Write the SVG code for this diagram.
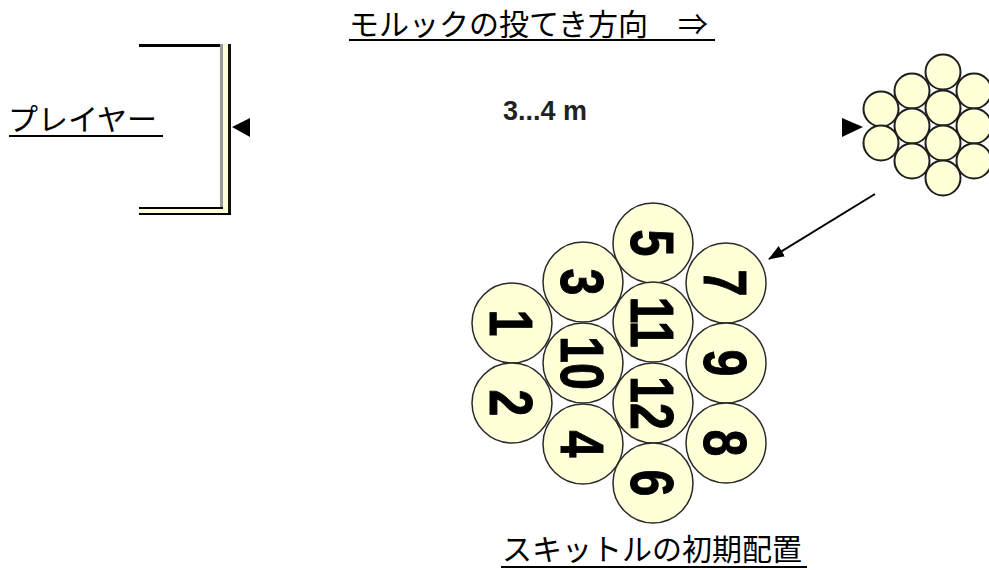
<svg xmlns="http://www.w3.org/2000/svg" width="989" height="570" viewBox="0 0 989 570">
<style>
.jp{font-family:"Noto Sans CJK JP","Noto Sans",sans-serif;font-size:30px;fill:#000}
.ul{stroke:#000;stroke-width:2}
.pin{fill:#FFFFD8;stroke:#2a2a2a;stroke-width:1.5}
.spin{fill:#FFFFD8;stroke:#1e1e1e;stroke-width:2}
.num{font-family:"Liberation Sans",Arial,sans-serif;font-weight:bold;font-size:62px;fill:#000;stroke:#000;stroke-width:1;text-anchor:middle}
.dist{font-family:"Liberation Sans",Arial,sans-serif;font-weight:bold;font-size:27px;fill:#222}
</style>
<defs>
<marker id="ah" markerWidth="16" markerHeight="12" refX="15" refY="6" orient="auto" markerUnits="userSpaceOnUse">
<path d="M0,0 L16,6 L0,12 Z" fill="#000"/>
</marker>
</defs>
<rect width="989" height="570" fill="#fff"/>

<g id="title">
<text class="jp" x="349" y="35">モルックの投てき方向　⇒</text>
<line class="ul" x1="349" y1="40" x2="715" y2="40"/>
</g>

<g id="player">
<text class="jp" x="8" y="130">プレイヤー</text>
<line class="ul" x1="9" y1="136" x2="163" y2="136"/>
<rect x="223" y="44" width="5" height="169" fill="#FFFFD8"/>
<rect x="139" y="209" width="89" height="4" fill="#FFFFD8"/>
<rect x="139" y="44" width="84" height="3" fill="#000"/>
<rect x="220" y="44" width="3" height="165" fill="#9a9a9a"/>
<rect x="228" y="44" width="3" height="171" fill="#111"/>
<rect x="139" y="207" width="84" height="2" fill="#000"/>
<rect x="139" y="213" width="92" height="2" fill="#000"/>
</g>

<g id="distance">
<text class="dist" x="503" y="120">3...4 m</text>
</g>

<g id="connectors">
<polygon points="232,127 250,118 250,137" fill="#000"/>
<polygon points="863,127 842,118 842,137" fill="#000"/>
<line x1="875" y1="194" x2="769" y2="259" stroke="#000" stroke-width="2" marker-end="url(#ah)"/>
</g>

<g id="small-cluster">
<circle class="spin" cx="943" cy="72" r="17.5"/>
<circle class="spin" cx="912" cy="91" r="17.5"/>
<circle class="spin" cx="974" cy="91" r="17.5"/>
<circle class="spin" cx="881" cy="109" r="17.5"/>
<circle class="spin" cx="943" cy="108" r="17.5"/>
<circle class="spin" cx="912" cy="126" r="17.5"/>
<circle class="spin" cx="974" cy="126" r="17.5"/>
<circle class="spin" cx="881" cy="143" r="17.5"/>
<circle class="spin" cx="943" cy="143" r="17.5"/>
<circle class="spin" cx="912" cy="161" r="17.5"/>
<circle class="spin" cx="974" cy="161" r="17.5"/>
<circle class="spin" cx="943" cy="178" r="17.5"/>
</g>

<g id="big-cluster">
<g id="pin5"><circle class="pin" cx="653" cy="243" r="40"/><text class="num" transform="translate(653,243) rotate(90) scale(0.78,1)" y="22">5</text></g>
<g id="pin7"><circle class="pin" cx="726" cy="283" r="40"/><text class="num" transform="translate(726,283) rotate(90) scale(0.78,1)" y="22">7</text></g>
<g id="pin3"><circle class="pin" cx="583" cy="282" r="40"/><text class="num" transform="translate(583,282) rotate(90) scale(0.78,1)" y="22">3</text></g>
<g id="pin11"><circle class="pin" cx="653" cy="322" r="40"/><text class="num" transform="translate(653,322) rotate(90) scale(0.78,1)" y="22">11</text></g>
<g id="pin1"><circle class="pin" cx="512" cy="323" r="40"/><text class="num" transform="translate(512,323) rotate(90) scale(0.78,1)" y="22">1</text></g>
<g id="pin10"><circle class="pin" cx="583" cy="363" r="40"/><text class="num" transform="translate(583,363) rotate(90) scale(0.78,1)" y="22">10</text></g>
<g id="pin9"><circle class="pin" cx="726" cy="363" r="40"/><text class="num" transform="translate(726,363) rotate(90) scale(0.78,1)" y="22">9</text></g>
<g id="pin2"><circle class="pin" cx="512" cy="403" r="40"/><text class="num" transform="translate(512,403) rotate(90) scale(0.78,1)" y="22">2</text></g>
<g id="pin12"><circle class="pin" cx="653" cy="403" r="40"/><text class="num" transform="translate(653,403) rotate(90) scale(0.78,1)" y="22">12</text></g>
<g id="pin4"><circle class="pin" cx="583" cy="444" r="40"/><text class="num" transform="translate(583,444) rotate(90) scale(0.78,1)" y="22">4</text></g>
<g id="pin8"><circle class="pin" cx="726" cy="443" r="40"/><text class="num" transform="translate(726,443) rotate(90) scale(0.78,1)" y="22">8</text></g>
<g id="pin6"><circle class="pin" cx="653" cy="483" r="40"/><text class="num" transform="translate(653,483) rotate(90) scale(0.78,1)" y="22">6</text></g>
</g>

<g id="bottom-label">
<text class="jp" x="502" y="560">スキットルの初期配置</text>
<line class="ul" x1="501" y1="567" x2="807" y2="567"/>
</g>
</svg>
